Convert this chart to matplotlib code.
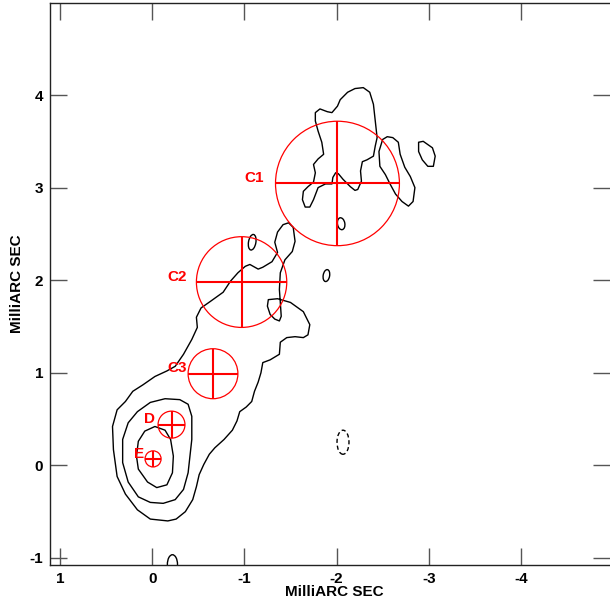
import matplotlib
matplotlib.use("Agg")
import matplotlib.pyplot as plt
from matplotlib.patches import Ellipse, Polygon
import numpy as np

plt.rcParams['font.family'] = ['Liberation Sans', 'DejaVu Sans']

# ---------------- data (milliarcsec) ----------------
# outer (lowest) contour of the jet
jet_outer = [
    (-0.17, -0.60), (0.02, -0.58), (0.16, -0.48), (0.29, -0.31), (0.38, -0.12),
    (0.42, 0.17), (0.43, 0.42), (0.38, 0.60), (0.29, 0.69), (0.21, 0.80),
    (0.10, 0.87), (-0.03, 0.96), (-0.16, 1.02), (-0.25, 1.07), (-0.34, 1.20),
    (-0.43, 1.36), (-0.49, 1.49), (-0.48, 1.60), (-0.53, 1.70), (-0.63, 1.77),
    (-0.77, 1.87), (-0.85, 1.99), (-0.93, 2.08), (-1.01, 2.15), (-1.06, 2.17),
    (-1.15, 2.12), (-1.20, 2.14), (-1.30, 2.20), (-1.36, 2.30), (-1.33, 2.41),
    (-1.36, 2.52), (-1.42, 2.60), (-1.48, 2.62), (-1.53, 2.57), (-1.55, 2.42),
    (-1.52, 2.31), (-1.44, 2.22), (-1.39, 2.08), (-1.38, 1.90), (-1.39, 1.76),
    (-1.40, 1.61), (-1.38, 1.56), (-1.33, 1.58), (-1.28, 1.63), (-1.25, 1.72),
    (-1.26, 1.79), (-1.36, 1.80), (-1.50, 1.76), (-1.64, 1.66), (-1.71, 1.52),
    (-1.69, 1.41), (-1.64, 1.38), (-1.55, 1.39), (-1.46, 1.38), (-1.39, 1.33),
    (-1.38, 1.20), (-1.28, 1.14), (-1.20, 1.11), (-1.18, 1.00), (-1.15, 0.90),
    (-1.11, 0.80), (-1.08, 0.69), (-1.02, 0.63), (-0.95, 0.58), (-0.92, 0.48),
    (-0.87, 0.38), (-0.78, 0.28), (-0.68, 0.19), (-0.62, 0.12), (-0.56, 0.01),
    (-0.51, -0.10), (-0.48, -0.23), (-0.44, -0.37), (-0.36, -0.50), (-0.26, -0.58),
]
# middle core contour
core_mid = [
    (-0.14, 0.72), (-0.30, 0.71), (-0.39, 0.66), (-0.43, 0.53), (-0.43, 0.28),
    (-0.41, 0.10), (-0.39, -0.08), (-0.34, -0.26), (-0.25, -0.37), (-0.12, -0.41),
    (0.02, -0.40), (0.15, -0.34), (0.26, -0.18), (0.32, 0.03), (0.32, 0.28),
    (0.26, 0.46), (0.16, 0.58), (0.02, 0.68),
]
# innermost core contour
core_inner = [
    (-0.03, 0.42), (-0.14, 0.38), (-0.20, 0.28), (-0.23, 0.10), (-0.22, -0.08),
    (-0.16, -0.21), (-0.05, -0.24), (0.05, -0.18), (0.15, -0.04), (0.17, 0.10),
    (0.15, 0.26), (0.08, 0.37),
]
# contour around C1
c1_main = [
    (-1.77, 3.81), (-1.82, 3.85), (-1.90, 3.82), (-1.95, 3.81), (-2.01, 3.88),
    (-2.04, 3.95), (-2.12, 4.03), (-2.20, 4.07), (-2.29, 4.08), (-2.36, 4.03),
    (-2.40, 3.90), (-2.42, 3.72), (-2.44, 3.54), (-2.42, 3.45), (-2.40, 3.34),
    (-2.33, 3.30), (-2.28, 3.28), (-2.26, 3.18), (-2.27, 3.07), (-2.23, 2.98),
    (-2.20, 2.97), (-2.15, 3.01), (-2.07, 3.09), (-2.02, 3.15), (-1.99, 3.16),
    (-1.96, 3.11), (-1.95, 3.04), (-1.88, 3.04), (-1.80, 3.00), (-1.75, 2.87),
    (-1.71, 2.79), (-1.66, 2.79), (-1.63, 2.87), (-1.64, 2.96), (-1.69, 3.01),
    (-1.75, 3.06), (-1.77, 3.16), (-1.75, 3.25), (-1.80, 3.31), (-1.86, 3.36),
    (-1.84, 3.49), (-1.80, 3.61), (-1.77, 3.72),
]
c1_right = [
    (-2.50, 3.52), (-2.55, 3.55), (-2.61, 3.54), (-2.67, 3.49), (-2.69, 3.36),
    (-2.74, 3.22), (-2.80, 3.12), (-2.85, 3.00), (-2.83, 2.85), (-2.78, 2.80),
    (-2.71, 2.85), (-2.64, 2.93), (-2.58, 3.04), (-2.53, 3.14), (-2.47, 3.23),
    (-2.46, 3.39),
]
blob_far = [
    (-2.89, 3.49), (-2.94, 3.50), (-3.04, 3.43), (-3.07, 3.34), (-3.05, 3.23),
    (-2.99, 3.23), (-2.93, 3.30), (-2.89, 3.39),
]
# small islands: centre x, centre y, width, height, angle
island_x = [-2.05, -1.89, -1.085, -0.22]
island_y = [2.61, 2.05, 2.41, -1.07]
island_w = [0.08, 0.07, 0.08, 0.11]
island_h = [0.13, 0.13, 0.17, 0.21]
island_a = [-10, 10, 10, 0]
# negative (dashed) island
neg_x, neg_y, neg_w, neg_h = -2.07, 0.25, 0.13, 0.26

# model components
comp_names = ['C1', 'C2', 'C3', 'D', 'E']
comp_x = [-2.01, -0.97, -0.66, -0.21, -0.01]
comp_y = [3.045, 1.98, 0.99, 0.44, 0.07]
comp_r = [0.672, 0.49, 0.27, 0.146, 0.087]
label_x = [-1.215, -0.38, -0.38, -0.03, 0.09]
label_y = [3.10, 2.03, 1.05, 0.50, 0.12]

xticks = [1, 0, -1, -2, -3, -4]
yticks = [-1, 0, 1, 2, 3, 4]

# ---------------- figure ----------------
fig = plt.figure(figsize=(6.10, 6.04), dpi=100)
ax = fig.add_axes([50 / 610, 39 / 604, 560 / 610, 562 / 604])
ax.set_xlim(1.108, -4.966)
ax.set_ylim(-1.076, 4.994)

for cont in [jet_outer, core_mid, core_inner, c1_main, c1_right, blob_far]:
    ax.add_patch(Polygon(cont, closed=True, fill=False, ec='black', lw=1.0,
                         joinstyle='round'))

for x, y, w, h, a in zip(island_x, island_y, island_w, island_h, island_a):
    ax.add_patch(Ellipse((x, y), w, h, angle=a, fill=False, ec='black', lw=1.0))

ax.add_patch(Ellipse((neg_x, neg_y), neg_w, neg_h, fill=False, ec='black',
                     lw=1.0, ls=(0, (3, 2))))

red = '#ff0000'
for name, x, y, r, lx, ly in zip(comp_names, comp_x, comp_y, comp_r, label_x, label_y):
    ax.add_patch(Ellipse((x, y), 2 * r, 2 * r, fill=False, ec=red, lw=0.9))
    ax.plot([x - r, x + r], [y, y], color=red, lw=1.5, solid_capstyle='butt')
    ax.plot([x, x], [y - r, y + r], color=red, lw=1.5, solid_capstyle='butt')
    ax.text(lx, ly, name, color=red, fontsize=11, fontweight='bold',
            ha='right', va='center')

ax.set_xticks(xticks)
ax.set_xticklabels([str(t) for t in xticks])
ax.set_yticks(yticks)
ax.set_yticklabels([str(t) for t in yticks])
ax.tick_params(direction='in', length=12, width=1.0, top=True, right=True,
               labelsize=11, color='#555555', pad=5)
for lab in ax.get_xticklabels() + ax.get_yticklabels():
    lab.set_fontweight('bold')

for s in ['left', 'bottom', 'top']:
    ax.spines[s].set_linewidth(1.0)
    ax.spines[s].set_color('#222222')
ax.spines['right'].set_visible(False)

fig.text(334 / 610, 1 - 592 / 604, 'MilliARC SEC', ha='center', va='center',
         fontsize=11, fontweight='bold')
fig.text(17 / 610, 1 - 284 / 604, 'MilliARC SEC', ha='center', va='center',
         rotation=90, fontsize=11, fontweight='bold')

fig.savefig('out.png', dpi=100)
